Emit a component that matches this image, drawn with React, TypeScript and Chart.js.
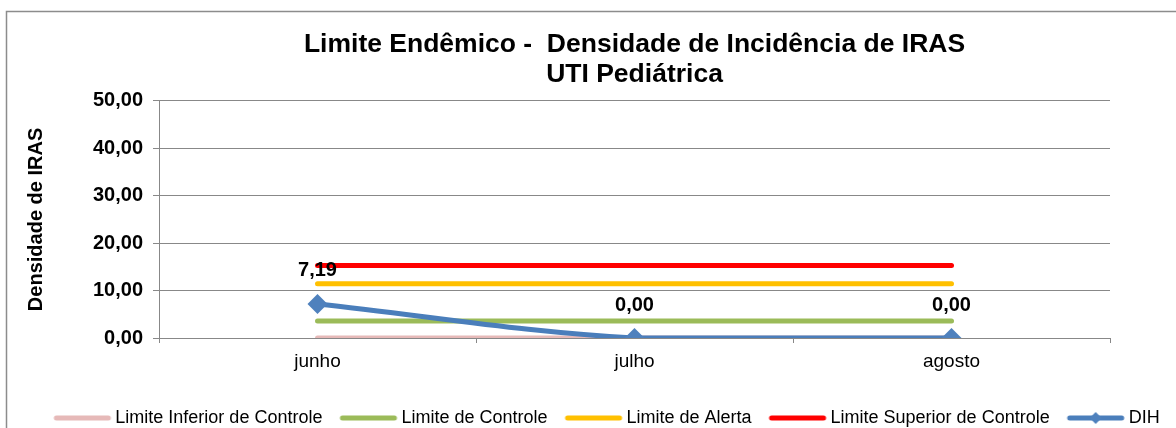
import React, { useEffect, useRef } from 'react';
import { Chart, registerables } from 'chart.js';

Chart.register(...registerables);

const categories = ['junho', 'julho', 'agosto'];
const limiteInferior = [0, 0, 0];
const limiteControle = [3.6, 3.6, 3.6];
const limiteAlerta = [11.45, 11.45, 11.45];
const limiteSuperior = [15.3, 15.3, 15.3];
const dih = [7.19, 0, 0];
const yTickValues = [0, 10, 20, 30, 40, 50];

const seriesNames = [
  'Limite Inferior de Controle',
  'Limite de Controle',
  'Limite de Alerta',
  'Limite Superior de Controle',
  'DIH',
];
const seriesColors = ['#E6B9B8', '#9BBB59', '#FFC000', '#FF0000', '#4A7EBB'];

const FONT = "'Liberation Sans', Arial, sans-serif";
const fmt = (v: number) => v.toFixed(2).replace('.', ',');

const LEGEND_BOX = 66;
const PAD_LEFT = 24;

function makeLegendIcon(color: string, marker: boolean): HTMLCanvasElement {
  const c = document.createElement('canvas');
  const w = LEGEND_BOX + 12;
  const h = 14;
  c.width = w;
  c.height = h;
  const ctx = c.getContext('2d')!;
  ctx.strokeStyle = color;
  ctx.lineWidth = 5;
  ctx.lineCap = 'round';
  ctx.beginPath();
  ctx.moveTo(w - 56, h / 2);
  ctx.lineTo(w - 4, h / 2);
  ctx.stroke();
  if (marker) {
    const cx = w - 30;
    const cy = h / 2;
    const r = 6;
    ctx.fillStyle = '#4F81BD';
    ctx.beginPath();
    ctx.moveTo(cx, cy - r);
    ctx.lineTo(cx + r, cy);
    ctx.lineTo(cx, cy + r);
    ctx.lineTo(cx - r, cy);
    ctx.closePath();
    ctx.fill();
  }
  return c;
}

const framePlugin = {
  id: 'frame',
  afterDraw(chart: any) {
    const ctx = chart.ctx;
    ctx.save();
    ctx.strokeStyle = '#8C8C8C';
    ctx.lineWidth = 1.5;
    ctx.beginPath();
    ctx.moveTo(6.5, chart.height + 2);
    ctx.lineTo(6.5, 11.5);
    ctx.lineTo(chart.width + 2, 11.5);
    ctx.stroke();
    ctx.restore();
  },
};

const dataLabelPlugin = {
  id: 'dihLabels',
  afterDatasetsDraw(chart: any) {
    const idx = 4;
    const meta = chart.getDatasetMeta(idx);
    const values = chart.data.datasets[idx].data as number[];
    const ctx = chart.ctx;
    ctx.save();
    ctx.font = `bold 20px ${FONT}`;
    ctx.fillStyle = '#000';
    ctx.textAlign = 'center';
    ctx.textBaseline = 'middle';
    meta.data.forEach((pt: any, i: number) => {
      ctx.fillText(fmt(values[i]), pt.x, pt.y - 33);
    });
    ctx.restore();
  },
};

export default function App() {
  const ref = useRef<HTMLCanvasElement>(null);

  useEffect(() => {
    document.body.style.margin = '0';
    const canvas = ref.current!;
    const lineData = [limiteInferior, limiteControle, limiteAlerta, limiteSuperior];
    const datasets: any[] = lineData.map((d, i) => ({
      label: seriesNames[i],
      data: d,
      borderColor: seriesColors[i],
      backgroundColor: seriesColors[i],
      borderWidth: 5,
      borderCapStyle: 'round',
      pointRadius: 0,
      pointHoverRadius: 0,
      tension: 0,
      order: 1,
    }));
    datasets.push({
      label: seriesNames[4],
      data: dih,
      borderColor: seriesColors[4],
      backgroundColor: '#4F81BD',
      borderWidth: 5,
      borderCapStyle: 'round',
      pointStyle: 'rectRot',
      pointRadius: 10,
      pointBorderWidth: 0,
      pointBackgroundColor: '#4F81BD',
      tension: 0.35,
      order: 0,
    });

    const icons = seriesColors.map((c, i) => makeLegendIcon(c, i === 4));

    const chart = new Chart(canvas, {
      type: 'line',
      data: { labels: categories, datasets },
      plugins: [framePlugin, dataLabelPlugin],
      options: {
        animation: false,
        responsive: false,
        devicePixelRatio: 1,
        layout: { padding: { left: PAD_LEFT, right: 0, top: 2, bottom: -9 } },
        plugins: {
          tooltip: { enabled: false },
          title: {
            display: true,
            fullSize: false,
            text: ['Limite Endêmico -  Densidade de Incidência de IRAS', 'UTI Pediátrica'],
            color: '#000',
            font: { family: FONT, size: 26.5, weight: 'bold', lineHeight: 1.13 },
            padding: { top: 28, bottom: 11 },
          },
          legend: {
            display: true,
            position: 'bottom',
            labels: {
              usePointStyle: true,
              pointStyleWidth: LEGEND_BOX,
              padding: 4,
              color: '#000',
              font: { family: FONT, size: 18 },
              sort: (a: any, b: any) => a.datasetIndex - b.datasetIndex,
              generateLabels: (ch: any) => {
                const items = Chart.defaults.plugins.legend.labels.generateLabels(ch);
                return items.map((it: any) => ({
                  ...it,
                  pointStyle: icons[it.datasetIndex],
                  fontColor: '#000',
                }));
              },
            },
          },
        },
        scales: {
          x: {
            type: 'category',
            offset: true,
            grid: {
              display: true,
              offset: true,
              drawOnChartArea: false,
              drawTicks: true,
              tickLength: 5,
              color: '#888888',
            },
            border: { display: true, color: '#888888', width: 1 },
            ticks: {
              color: '#000',
              font: { family: FONT, size: 19 },
              padding: 7,
              maxRotation: 0,
            },
            afterFit: (s: any) => {
              s.height = 67;
            },
          },
          y: {
            type: 'linear',
            min: 0,
            max: 50,
            afterBuildTicks: (s: any) => {
              s.ticks = yTickValues.map((v) => ({ value: v }));
            },
            grid: { color: '#888888', tickLength: 6, lineWidth: 1 },
            border: { display: true, color: '#888888', width: 1 },
            ticks: {
              color: '#000',
              font: { family: FONT, size: 20, weight: 'bold' },
              padding: 10,
              callback: (v: any) => fmt(Number(v)),
            },
            title: {
              display: true,
              text: 'Densidade de IRAS',
              color: '#000',
              font: { family: FONT, size: 20, weight: 'bold', lineHeight: 1.2 },
              padding: { top: 24 - PAD_LEFT, bottom: 0 },
            },
            afterFit: (s: any) => {
              s.width = 159 - PAD_LEFT;
            },
          },
          y2: {
            type: 'linear',
            position: 'right',
            display: true,
            grid: { display: false, drawTicks: false },
            border: { display: false },
            ticks: { display: false },
            afterFit: (s: any) => {
              s.width = 66;
            },
          },
        },
      },
    });
    return () => chart.destroy();
  }, []);

  return (
    <div style={{ position: 'absolute', left: 0, top: 0, width: 1176, height: 428 }}>
      <canvas ref={ref} width={1176} height={428} />
    </div>
  );
}
